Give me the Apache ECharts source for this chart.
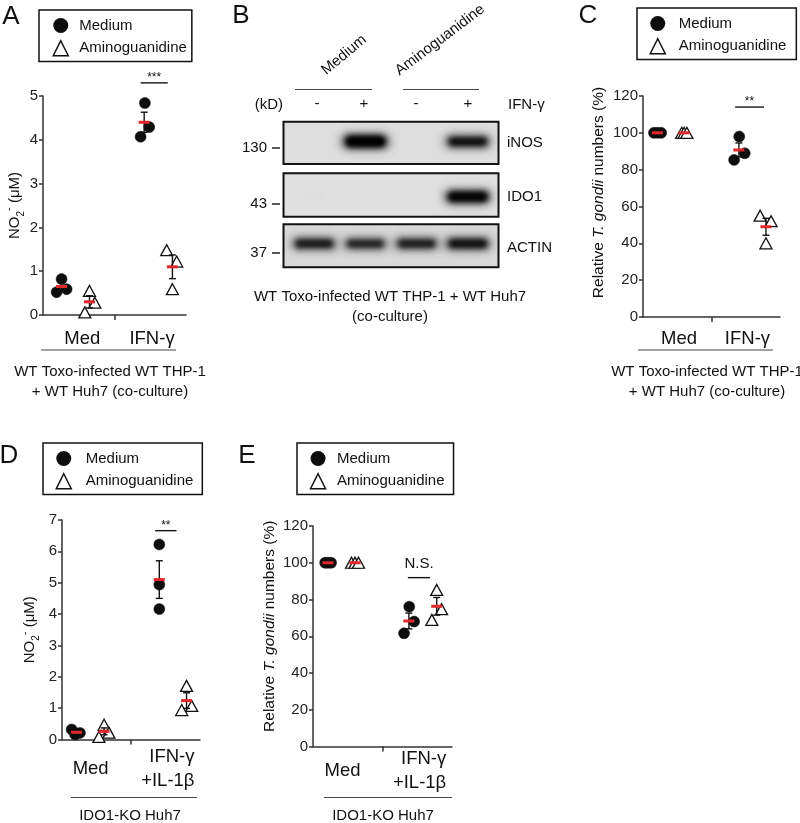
<!DOCTYPE html>
<html><head><meta charset="utf-8">
<script src="https://cdn.jsdelivr.net/npm/echarts@6/dist/echarts.min.js"></script>
<style>html,body{margin:0;padding:0;background:#fff}#c{width:800px;height:823px}</style>
</head><body><div id="c"></div>
<script>
const FONT = 'Liberation Sans, Arial, Helvetica, sans-serif';

// ---------- categories / names ----------
const catsCoculture = ['Med', 'IFN-γ'];
const catsKO = ['Med', 'IFN-γ\n+IL-1β'];
const seriesNames = ['Medium', 'Aminoguanidine'];

// ---------- Panel A : NO2- (µM), co-culture ----------
const aMediumVal = [0.52, 0.82, 0.59, 4.07, 4.84, 4.29];
const aMediumPos = [0.38, 0.52, 0.66, 2.73, 2.85, 2.97];
const aAgVal     = [0.06, 0.55, 0.28, 1.48, 0.59, 1.22];
const aAgPos     = [1.17, 1.30, 1.45, 3.46, 3.62, 3.74];
const aMean      = [0.65, 0.30, 4.40, 1.10];
const aSem       = [0.09, 0.14, 0.23, 0.27];
const aMeanPos   = [0.52, 1.30, 2.83, 3.62];
const aSig       = [2.73, 3.49, 5.30, '***'];

// ---------- Panel C : relative T. gondii numbers (%), co-culture ----------
const cMediumVal = [100, 100, 100, 85.3, 98.0, 88.9];
const cMediumPos = [0.32, 0.42, 0.53, 2.66, 2.81, 2.97];
const cAgVal     = [100, 100, 100, 55.0, 40.0, 52.0];
const cAgPos     = [1.13, 1.20, 1.28, 3.42, 3.59, 3.74];
const cMean      = [100, 100, 90.7, 49.0];
const cSem       = [0, 0, 3.8, 4.6];
const cMeanPos   = [0.42, 1.20, 2.80, 3.59];
const cSig       = [2.69, 3.53, 114, '**'];

// ---------- Panel D : NO2- (µM), IDO1-KO Huh7 ----------
const dMediumVal = [0.32, 0.16, 0.21, 6.22, 4.94, 4.16];
const dMediumPos = [0.28, 0.38, 0.52, 2.82, 2.82, 2.82];
const dAgVal     = [0.08, 0.47, 0.22, 0.94, 1.71, 1.07];
const dAgPos     = [1.07, 1.22, 1.36, 3.47, 3.61, 3.76];
const dMean      = [0.23, 0.26, 5.10, 1.24];
const dSem       = [0.05, 0.11, 0.60, 0.25];
const dMeanPos   = [0.42, 1.22, 2.82, 3.61];
const dSig       = [2.70, 3.32, 6.66, '**'];

// ---------- Panel E : relative T. gondii numbers (%), IDO1-KO Huh7 ----------
const eMediumVal = [100, 100, 100, 61.6, 76.1, 68.0];
const eMediumPos = [0.35, 0.43, 0.52, 2.62, 2.77, 2.91];
const eAgVal     = [100, 100, 100, 68.9, 85.2, 74.7];
const eAgPos     = [1.11, 1.21, 1.31, 3.42, 3.56, 3.70];
const eMean      = [100, 100, 68.3, 76.3];
const eSem       = [0, 0, 4.3, 4.8];
const eMeanPos   = [0.43, 1.21, 2.76, 3.56];
const eSig       = [2.73, 3.37, 91.9, 'N.S.'];

// ---------- Panel B : western blot ----------
const blotTreatments = ['Medium', 'Aminoguanidine'];
const blotIFN = ['-', '+', '-', '+'];
const blotProteins = ['iNOS', 'IDO1', 'ACTIN'];
const blotMarkers = ['130', '43', '37'];
const bandINOS  = [0.00, 1.00, 0.00, 0.85];
const bandIDO1  = [0.12, 0.00, 0.00, 0.95];
const bandACTIN = [0.82, 0.78, 0.80, 0.85];

// ---------- helpers ----------
const zip = (p, v) => p.map((x, i) => [x, v[i]]);

function txt(x, y, text, o) {
  o = o || {};
  return {type: 'text', x: x, y: y, rotation: o.rot || 0, silent: true, z: 10,
    style: {text: text, fill: o.color || '#111', fontSize: o.size || 15, fontFamily: FONT,
      fontStyle: o.italic ? 'italic' : 'normal',
      textAlign: o.align || 'center', textVerticalAlign: o.va || 'middle',
      align: o.align || 'center', verticalAlign: o.va || 'middle'}};
}
function hline(x1, x2, y, w, c) {
  return {type: 'line', silent: true, z: 10, shape: {x1: x1, y1: y, x2: x2, y2: y},
    style: {stroke: c || '#444', lineWidth: w || 1.2}};
}

const AX = '#333';
function plotX(gi, cats, labelPos, margin, multi) {
  return {type: 'value', gridIndex: gi, min: 0, max: 4,
    axisLine: {show: true, onZero: false, lineStyle: {color: AX, width: 1.5}},
    axisTick: {show: true, customValues: [2], length: 5, lineStyle: {color: AX, width: 1.5}},
    splitLine: {show: false},
    axisLabel: {show: true, customValues: labelPos, margin: margin, verticalAlign: 'middle', align: 'center',
      fontSize: 18.5, color: '#111', fontFamily: FONT, lineHeight: 24,
      formatter: function (v) {
        const i = v < 2 ? 0 : 1;
        if (multi && i === 1) return cats[1].split('\n').map(s => '{r|' + s + '}').join('\n');
        return multi ? '{m|' + cats[i] + '}' : cats[i];
      },
      rich: multi ? {r: {width: 58, align: 'right', fontSize: 18.5, lineHeight: 24, fontFamily: FONT, color: '#111'},
                     m: {fontSize: 18.5, lineHeight: 24, fontFamily: FONT, color: '#111'}} : undefined}};
}
const richNO2 = {
  a: {fontSize: 15, fontFamily: FONT, color: '#111', lineHeight: 22},
  s: {fontSize: 10, fontFamily: FONT, color: '#111', lineHeight: 10, verticalAlign: 'bottom'},
  p: {fontSize: 11, fontFamily: FONT, color: '#111', lineHeight: 10, verticalAlign: 'top'}
};
const richTG = {
  n: {fontSize: 15.5, fontFamily: FONT, color: '#111'},
  i: {fontSize: 15.5, fontFamily: FONT, color: '#111', fontStyle: 'italic'}
};
function plotY(gi, max, interval, name, rich, gap, pad) {
  return {type: 'value', gridIndex: gi, min: 0, max: max, interval: interval,
    axisLine: {show: true, onZero: false, lineStyle: {color: AX, width: 1.5}},
    axisTick: {show: true, length: 4, lineStyle: {color: AX, width: 1.5}},
    splitLine: {show: false},
    axisLabel: {fontSize: 15, color: '#222', margin: 5, fontFamily: FONT},
    name: name, nameLocation: 'middle', nameRotate: 90, nameGap: gap,
    nameTextStyle: {rich: rich, padding: pad || 0, fontSize: 15, fontFamily: FONT, color: '#111'}};
}

function pointSeries(gi, name, data) {
  const isMed = name === 'Medium';
  return {type: 'scatter', name: name, xAxisIndex: gi, yAxisIndex: gi, data: data, z: 2,
    symbol: isMed ? 'circle' : 'triangle', symbolSize: isMed ? 11 : [12, 11],
    itemStyle: isMed ? {color: '#0d0d0d', borderColor: '#0d0d0d', borderWidth: 0.5, opacity: 1}
                     : {color: '#fff', borderColor: '#111', borderWidth: 1.3, opacity: 1},
    emphasis: {disabled: true}, silent: true};
}
function meanSeries(gi, pos, mean, sem) {
  return {type: 'custom', xAxisIndex: gi, yAxisIndex: gi, z: 4, silent: true, clip: false,
    data: pos.map((x, i) => [x, mean[i], sem[i]]),
    renderItem: function (p, api) {
      const x = api.value(0), m = api.value(1), s = api.value(2);
      const c = api.coord([x, m]);
      const ch = [];
      if (s > 0) {
        const t = api.coord([x, m + s]), b = api.coord([x, m - s]);
        ch.push({type: 'line', shape: {x1: c[0], y1: t[1], x2: c[0], y2: b[1]}, style: {stroke: '#111', lineWidth: 1.4}});
        ch.push({type: 'line', shape: {x1: c[0] - 3.5, y1: t[1], x2: c[0] + 3.5, y2: t[1]}, style: {stroke: '#111', lineWidth: 1.4}});
        ch.push({type: 'line', shape: {x1: c[0] - 3.5, y1: b[1], x2: c[0] + 3.5, y2: b[1]}, style: {stroke: '#111', lineWidth: 1.4}});
      }
      ch.push({type: 'rect', shape: {x: c[0] - 5.5, y: c[1] - 1.5, width: 11, height: 3}, style: {fill: '#e3262b'}});
      return {type: 'group', children: ch};
    }};
}
function sigSeries(gi, sig) {
  const ns = sig[3] === 'N.S.';
  return {type: 'custom', xAxisIndex: gi, yAxisIndex: gi, z: 4, silent: true, clip: false,
    data: [[sig[0], sig[2], sig[1]]],
    renderItem: function (p, api) {
      const a = api.coord([api.value(0), api.value(1)]), b = api.coord([api.value(2), api.value(1)]);
      return {type: 'group', children: [
        {type: 'line', shape: {x1: a[0], y1: a[1], x2: b[0], y2: b[1]}, style: {stroke: '#111', lineWidth: 1.4}},
        {type: 'text', x: (a[0] + b[0]) / 2, y: a[1] - (ns ? 14 : 5),
         style: {text: sig[3], fill: '#111', fontSize: ns ? 15 : 12, fontFamily: FONT,
                 align: 'center', verticalAlign: 'middle', textAlign: 'center', textVerticalAlign: 'middle'}}]};
    }};
}
// band drawn as its blurred shadow only (shape itself shifted off by OFF px)
const OFF = 1200;
function bandSeries(gi, intens, rowY) {
  return {type: 'custom', xAxisIndex: gi, yAxisIndex: gi, z: 3, silent: true, clip: false,
    data: intens.map((v, i) => [i, v]),
    renderItem: function (p, api) {
      const lane = api.value(0), v = api.value(1);
      if (v <= 0.02) return {type: 'group', children: []};
      const c = api.coord([lane + 0.5, rowY]);
      const w = api.size([0.98, 0])[0] * (0.6 + 0.4 * Math.min(1, v * 1.15));
      const h = 5 + 9 * v;
      const a = Math.min(1, v);
      const ch = [];
      const blurRect = (ww, hh, col, blur) => {
        if (ww < 2 || hh < 2) return;
        ch.push({type: 'rect',
          shape: {x: c[0] - ww / 2 + OFF, y: c[1] - hh / 2, width: ww, height: hh, r: hh / 2},
          style: {fill: col, shadowBlur: blur, shadowColor: col, shadowOffsetX: -OFF, shadowOffsetY: 0}});
      };
      blurRect(w, h + 2, 'rgba(40,40,40,' + (0.75 * a) + ')', 10);
      blurRect(w - 8, h - 2, 'rgba(10,10,10,' + a + ')', 6);
      blurRect(w - 14, h - 6, 'rgba(0,0,0,' + a + ')', 4);
      return {type: 'group', children: ch};
    }};
}

// ---------- grids ----------
const grids = [
  {left: 43, top: 96, width: 143, height: 219},      // A
  {left: 643, top: 96, width: 137, height: 221},     // C
  {left: 62, top: 520, width: 138, height: 219.5},   // D
  {left: 313, top: 526, width: 139, height: 220.5},  // E
  {left: 283.5, top: 121.7, width: 215, height: 42.3, show: true, backgroundColor: '#dedede', borderColor: '#111', borderWidth: 2},
  {left: 283.5, top: 173.3, width: 215, height: 43.4, show: true, backgroundColor: '#e0e0e0', borderColor: '#111', borderWidth: 2},
  {left: 283.5, top: 224.3, width: 215, height: 43, show: true, backgroundColor: '#d9d9d9', borderColor: '#111', borderWidth: 2}
].map(g => Object.assign({containLabel: false, outerBoundsMode: 'none'}, g));

const xAxes = [
  plotX(0, catsCoculture, [1.1, 3.05], 24, false),
  plotX(1, catsCoculture, [1.05, 3.05], 22, false),
  plotX(2, catsKO, [0.83, 3.0], 29.5, true),
  plotX(3, catsKO, [0.85, 3.0], 24, true),
  {type: 'value', gridIndex: 4, min: -0.1, max: 4.1, show: false},
  {type: 'value', gridIndex: 5, min: -0.1, max: 4.1, show: false},
  {type: 'value', gridIndex: 6, min: -0.1, max: 4.1, show: false}
];
const nameNO2 = '{a|NO}{s|2}{p|-}{a| (μM)}';
const nameTG = '{n|Relative }{i|T. gondii}{n| numbers (%)}';
const yAxes = [
  plotY(0, 5, 1, nameNO2, richNO2, 17),
  plotY(1, 120, 20, nameTG, richTG, 36, [0, 0, 0, 28]),
  plotY(2, 7, 1, nameNO2, richNO2, 21),
  plotY(3, 120, 20, nameTG, richTG, 35, [0, 0, 0, 20]),
  {type: 'value', gridIndex: 4, min: 0, max: 1, inverse: true, show: false},
  {type: 'value', gridIndex: 5, min: 0, max: 1, inverse: true, show: false},
  {type: 'value', gridIndex: 6, min: 0, max: 1, inverse: true, show: false}
];

const series = [
  pointSeries(0, 'Medium', zip(aMediumPos, aMediumVal)),
  pointSeries(0, 'Aminoguanidine', zip(aAgPos, aAgVal)),
  meanSeries(0, aMeanPos, aMean, aSem), sigSeries(0, aSig),
  pointSeries(1, 'Medium', zip(cMediumPos, cMediumVal)),
  pointSeries(1, 'Aminoguanidine', zip(cAgPos, cAgVal)),
  meanSeries(1, cMeanPos, cMean, cSem), sigSeries(1, cSig),
  pointSeries(2, 'Medium', zip(dMediumPos, dMediumVal)),
  pointSeries(2, 'Aminoguanidine', zip(dAgPos, dAgVal)),
  meanSeries(2, dMeanPos, dMean, dSem), sigSeries(2, dSig),
  pointSeries(3, 'Medium', zip(eMediumPos, eMediumVal)),
  pointSeries(3, 'Aminoguanidine', zip(eAgPos, eAgVal)),
  meanSeries(3, eMeanPos, eMean, eSem), sigSeries(3, eSig),
  bandSeries(4, bandINOS, 0.47),
  bandSeries(5, bandIDO1, 0.54),
  bandSeries(6, bandACTIN, 0.45)
];

function legendAt(left, top, pad, textPad) {
  return {left: left, top: top, orient: 'vertical', selectedMode: false, padding: pad,
    itemWidth: 15, itemHeight: 15, itemGap: 7,
    borderColor: '#111', borderWidth: 1.5, backgroundColor: '#fff',
    textStyle: {fontSize: 15, fontFamily: FONT, color: '#111', padding: [0, 0, 0, textPad]},
    data: [{name: seriesNames[0], icon: 'circle', itemStyle: {color: '#0d0d0d', borderColor: '#0d0d0d', borderWidth: 0, opacity: 1}},
           {name: seriesNames[1], icon: 'triangle', itemStyle: {color: '#fff', borderColor: '#111', borderWidth: 1.5, opacity: 1}}]};
}
const legends = [
  legendAt(39, 10, [8, 5, 5, 13.5], 6),
  legendAt(637, 8, [8, 10, 5, 12.5], 8.5),
  legendAt(43, 443, [8, 9, 5, 12.5], 9.5),
  legendAt(297, 443, [8, 9, 5, 12.8], 6.4)
];

// ---------- annotations ----------
const lanesX = [317, 364, 416, 468];
const graphic = [
  txt(11, 17, 'A', {size: 26}), txt(241, 16, 'B', {size: 26}), txt(588, 16, 'C', {size: 26}),
  txt(9, 456, 'D', {size: 26}), txt(247, 456, 'E', {size: 26}),
  hline(41, 176, 350), txt(110, 372, 'WT Toxo-infected WT THP-1'), txt(110, 392, '+ WT Huh7 (co-culture)'),
  hline(638, 773, 350), txt(707, 372, 'WT Toxo-infected WT THP-1'), txt(707, 392, '+ WT Huh7 (co-culture)'),
  hline(71, 197, 797.5), txt(130, 816, 'IDO1-KO Huh7'),
  hline(324, 452, 797.5), txt(383, 816, 'IDO1-KO Huh7'),
  // blot header
  txt(344, 55, blotTreatments[0], {rot: 40 * Math.PI / 180}),
  txt(440, 40, blotTreatments[1], {rot: 37 * Math.PI / 180}),
  hline(295, 372, 89.5), hline(403, 479, 89.5),
  txt(283, 105, '(kD)', {align: 'right'}),
  txt(lanesX[0], 104, blotIFN[0]), txt(lanesX[1], 104, blotIFN[1]),
  txt(lanesX[2], 104, blotIFN[2]), txt(lanesX[3], 104, blotIFN[3]),
  txt(508, 105, 'IFN-γ', {align: 'left'}),
  txt(507, 143, blotProteins[0], {align: 'left'}),
  txt(507, 196.5, blotProteins[1], {align: 'left'}),
  txt(507, 248, blotProteins[2], {align: 'left'}),
  txt(267, 148, blotMarkers[0], {align: 'right'}), hline(272, 280, 148, 1.4, '#111'),
  txt(267, 204, blotMarkers[1], {align: 'right'}), hline(272, 280, 204, 1.4, '#111'),
  txt(267, 253, blotMarkers[2], {align: 'right'}), hline(272, 280, 253, 1.4, '#111'),
  txt(390, 297, 'WT Toxo-infected WT THP-1 + WT Huh7'), txt(390, 317, '(co-culture)')
];

const chart = echarts.init(document.getElementById('c'), null, {renderer: 'canvas'});
chart.setOption({
  animation: false, backgroundColor: '#fff',
  grid: grids, xAxis: xAxes, yAxis: yAxes, series: series, legend: legends, graphic: graphic,
  tooltip: {show: false}
});
</script></body></html>
